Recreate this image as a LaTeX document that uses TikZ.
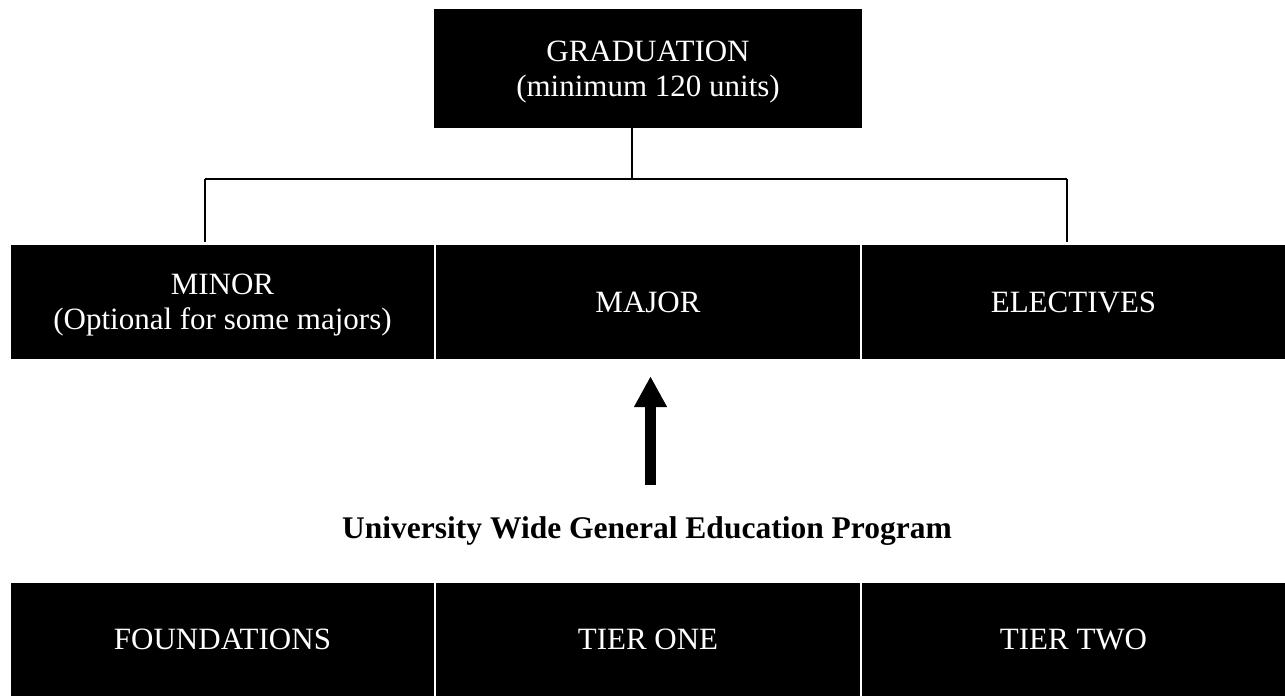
\documentclass[tikz,border=0pt]{standalone}
\usepackage{fontspec}
\setmainfont{Liberation Serif}
\usetikzlibrary{arrows.meta}
\begin{document}
\begin{tikzpicture}[x=1pt,y=-1pt,
  blk/.style={fill=black,text=white,inner sep=0pt,align=center,
    font=\fontsize{31}{35}\selectfont},
  lbl/.style={text=white,inner sep=0pt,align=center,
    font=\fontsize{31}{35}\selectfont},
  conn/.style={draw=black,line width=1.4pt},
  bigarrow/.style={line width=11pt,-{Triangle[width=31pt,length=31pt]}}]
\useasboundingbox (0,0) rectangle (1285,696);
% top
\node[blk,minimum width=428pt,minimum height=119pt,
  label={[lbl,yshift=-4pt]center:{GRADUATION\\(minimum 120 units)}}] (grad) at (648,68.5) {};
% middle row
\node[blk,minimum width=423pt,minimum height=114pt,
  label={[lbl,yshift=-3pt]center:{MINOR\\(Optional for some majors)}}] (minor) at (222.5,302) {};
\node[blk,minimum width=424pt,minimum height=114pt] (major) at (648,302) {MAJOR};
\node[blk,minimum width=423pt,minimum height=114pt] (elect) at (1073.5,302) {ELECTIVES};
% connectors
\coordinate (jm) at (632,179);
\coordinate (jl) at (205,179);
\coordinate (jr) at (1067,179);
\draw[conn] (grad.south -| jm) -- (jm);
\draw[conn] (jl) -- (jr);
\draw[conn,shorten >=3pt] (jl) -- (jl |- minor.north);
\draw[conn,shorten >=3pt] (jr) -- (jr |- elect.north);
% arrow
\coordinate (ab) at (650.5,485);
\draw[bigarrow,shorten >=17pt] (ab) -- (ab |- major.south);
% title
\node[anchor=base,inner sep=0pt,font=\fontsize{31.5}{36}\selectfont\bfseries] (title) at (647,538)
  {University Wide General Education Program};
% bottom row
\node[blk,minimum width=423pt,minimum height=113pt] (found) at (222.5,639.5) {FOUNDATIONS};
\node[blk,minimum width=424pt,minimum height=113pt] (tone) at (648,639.5) {TIER ONE};
\node[blk,minimum width=423pt,minimum height=113pt] (ttwo) at (1073.5,639.5) {TIER TWO};
\end{tikzpicture}
\end{document}
